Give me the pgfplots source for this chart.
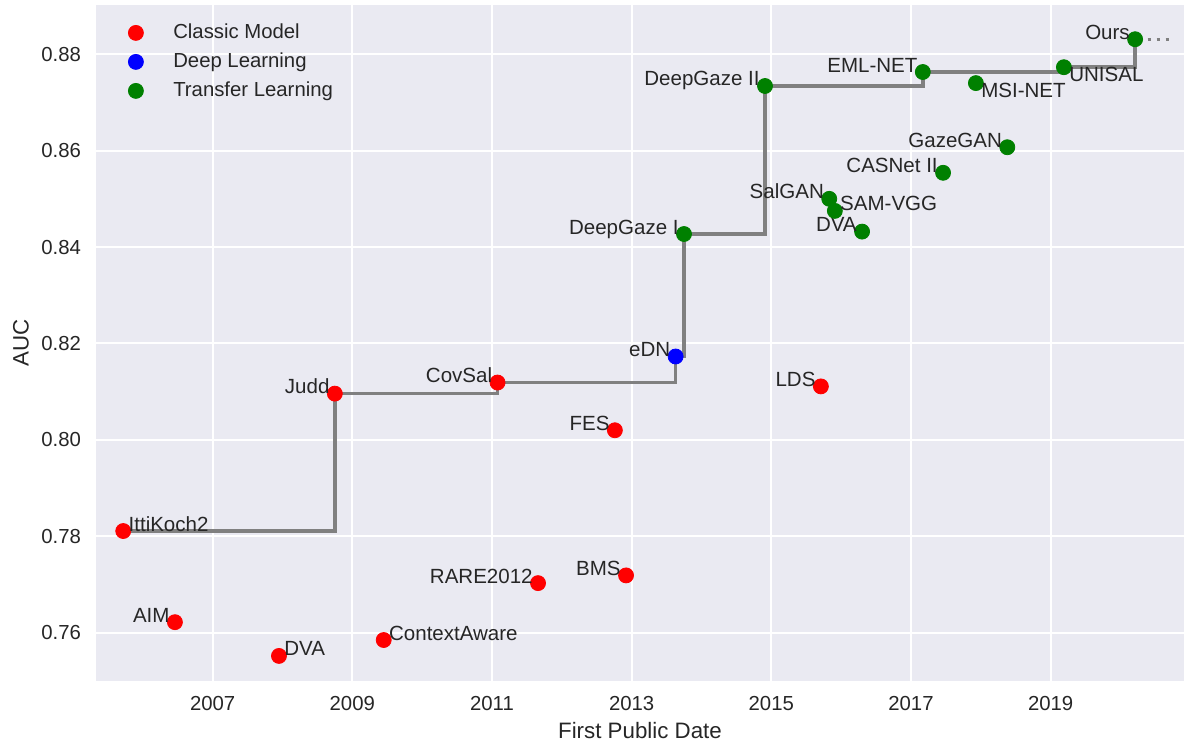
\documentclass[border=0pt]{standalone}
\usepackage{fontspec}
\setmainfont{Liberation Sans}
\usepackage{pgfplots}
\pgfplotsset{compat=1.18}
\usepackage{pgfplotstable}
\definecolor{bg}{HTML}{EAEAF2}
\definecolor{txt}{HTML}{262626}
\definecolor{mred}{rgb}{1,0,0}
\definecolor{mblue}{rgb}{0,0,1}
\definecolor{mgreen}{rgb}{0,0.5,0}
\definecolor{stepgray}{HTML}{808080}

% Classic models, label to the left of the point
\pgfplotstableread[col sep=comma]{
x,y,label
2006.46,0.7622,AIM
2008.75,0.8096,Judd
2011.08,0.8119,CovSal
2011.66,0.7703,RARE2012
2012.76,0.8020,FES
2012.92,0.7719,BMS
2015.71,0.8111,LDS
}\classicE
% Classic models, label to the right of the point
\pgfplotstableread[col sep=comma]{
x,y,label
2005.72,0.7811,IttiKoch2
2007.95,0.7552,DVA
2009.45,0.7585,ContextAware
}\classicW

\pgfplotstableread[col sep=comma]{
x,y,label
2013.63,0.8173,eDN
}\deepE

\pgfplotstableread[col sep=comma]{
x,y,label
2013.75,0.8427,DeepGaze I
2014.91,0.8734,DeepGaze II
2015.83,0.8500,SalGAN
2016.30,0.8432,DVA
2017.46,0.8554,CASNet II
2018.38,0.8607,GazeGAN
2017.17,0.8763,EML-NET
2020.21,0.8831,Ours
}\transferE
\pgfplotstableread[col sep=comma]{
x,y,label
2015.91,0.8475,SAM-VGG
}\transferW
\pgfplotstableread[col sep=comma]{
x,y,label
2017.93,0.8740,MSI-NET
2019.19,0.8773,UNISAL
}\transferNW

\pgfplotstableread[col sep=comma]{
x,y
2005.72,0.7811
2008.75,0.8096
2011.08,0.8119
2013.63,0.8173
2013.75,0.8427
2014.91,0.8734
2017.17,0.8763
2019.19,0.8773
2020.21,0.8831
}\steps

\pgfplotstableread[col sep=comma]{
x,y
2020.26,0.8831
2020.69,0.8831
}\cont

\pgfplotsset{
  labelled/.style={
    only marks, mark=*, mark size=3.75bp,
    point meta=explicit symbolic,
    nodes near coords={\pgfplotspointmeta},
    every node near coord/.append style={anchor=#1, inner xsep=2.5bp, inner ysep=0pt, font=\fontsize{10.3}{12}\selectfont, text=txt},
  },
}

\begin{document}
\begin{tikzpicture}
\begin{axis}[
  scale only axis,
  width=544bp, height=338bp,
  xmin=2005.33, xmax=2020.91,
  ymin=0.750, ymax=0.8902,
  axis background/.style={fill=bg},
  axis line style={draw=none},
  major tick length=0pt,
  grid=major,
  major grid style={white, line width=1bp},
  xtick={2007,2009,2011,2013,2015,2017,2019},
  ytick={0.76,0.78,0.80,0.82,0.84,0.86,0.88},
  xticklabel style={/pgf/number format/1000 sep={}, yshift=-4bp},
  yticklabel style={/pgf/number format/fixed, /pgf/number format/fixed zerofill, /pgf/number format/precision=2, xshift=-4bp},
  /pgf/number format/assume math mode=true,
  tick label style={font=\fontsize{10.2}{12}\selectfont, text=txt},
  xlabel={First Public Date},
  ylabel={AUC},
  label style={font=\fontsize{11.2}{13}\selectfont, text=txt},
  xlabel style={at={(axis description cs:0.5,0)}, anchor=center, yshift=-25bp},
  ylabel style={at={(axis description cs:0,0.5)}, anchor=center, yshift=37.5bp},
  clip=false,
  legend style={at={(axis description cs:0,1)}, anchor=north west, xshift=16bp, yshift=-6.5bp,
    draw=none, fill=none, inner sep=0pt,
    nodes={text height=7.5bp, text depth=2bp, inner sep=2.5bp, font=\fontsize{10.2}{12}\selectfont, text=txt}},
  legend cell align=left,
  legend image code/.code={\path (0bp,0bp) (16bp,0bp); \draw[#1] plot coordinates {(0bp,0bp)};},
]
\addplot[labelled=base east, mark options={draw=mred, fill=mred}] table[x=x, y=y, meta=label]{\classicE};
\addlegendentry{Classic Model}
\addplot[labelled=base east, mark options={draw=mblue, fill=mblue}] table[x=x, y=y, meta=label]{\deepE};
\addlegendentry{Deep Learning}
\addplot[labelled=base east, mark options={draw=mgreen, fill=mgreen}] table[x=x, y=y, meta=label]{\transferE};
\addlegendentry{Transfer Learning}
\addplot[labelled=base west, mark options={draw=mred, fill=mred}, forget plot] table[x=x, y=y, meta=label]{\classicW};
\addplot[labelled=base west, mark options={draw=mgreen, fill=mgreen}, forget plot] table[x=x, y=y, meta=label]{\transferW};
\addplot[labelled=north west, mark options={draw=mgreen, fill=mgreen}, forget plot] table[x=x, y=y, meta=label]{\transferNW};
\addplot[const plot, no marks, stepgray, line width=1.7bp, forget plot] table[x=x, y=y]{\steps};
\addplot[no marks, stepgray, line width=1.7bp, dash pattern=on 1.5bp off 3bp, forget plot] table[x=x, y=y]{\cont};
\end{axis}
\pgfresetboundingbox
\path ([xshift=-48bp,yshift=-30.5bp]current axis.south west) rectangle ([yshift=2.5bp]current axis.north east);
\end{tikzpicture}
\end{document}
